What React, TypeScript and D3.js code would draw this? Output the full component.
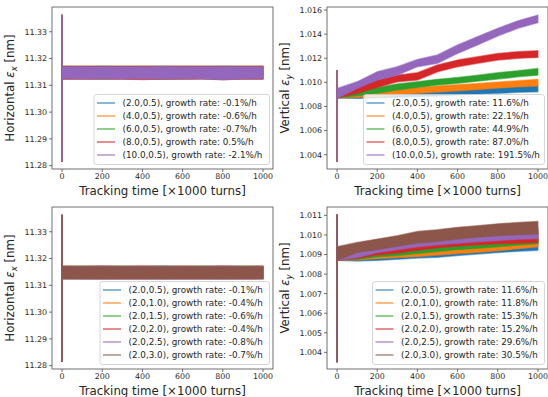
import React from "react";
import * as d3 from "d3";

// Tracking time samples [x1000 turns]
const TIME = [0, 100, 200, 300, 400, 500, 600, 700, 800, 900, 1000];

// Colour cycle
const C_BLUE = "#1f77b4";
const C_ORANGE = "#ff7f0e";
const C_GREEN = "#2ca02c";
const C_RED = "#d62728";
const C_PURPLE = "#9467bd";
const C_BROWN = "#8c564b";

// ---------- Horizontal emittance, scan of first parameter ----------
const H1_PARAMS = ["(2.0,0.5)", "(4.0,0.5)", "(6.0,0.5)", "(8.0,0.5)", "(10.0,0.5)"];
const H1_RATES = ["-0.1", "-0.6", "-0.7", "0.5", "-2.1"];
const H1_LO = [
  [11.3126, 11.3126, 11.3125, 11.3126, 11.3126, 11.3125, 11.3126, 11.3126, 11.3125, 11.3126, 11.3126],
  [11.3125, 11.3126, 11.3126, 11.3125, 11.3126, 11.3126, 11.3125, 11.3126, 11.3126, 11.3125, 11.3126],
  [11.3124, 11.3124, 11.3123, 11.3124, 11.3124, 11.3123, 11.3124, 11.3124, 11.3123, 11.3124, 11.3124],
  [11.3123, 11.3123, 11.3124, 11.3123, 11.3122, 11.3123, 11.3123, 11.3124, 11.3122, 11.3123, 11.3123],
  [11.3125, 11.3124, 11.3125, 11.3124, 11.3125, 11.3124, 11.3125, 11.3124, 11.3121, 11.3124, 11.3125],
];
const H1_HI = [
  [11.3171, 11.3171, 11.3172, 11.3171, 11.3171, 11.3172, 11.3171, 11.3171, 11.3172, 11.3171, 11.3171],
  [11.3172, 11.3172, 11.3171, 11.3172, 11.3172, 11.3171, 11.3172, 11.3172, 11.3171, 11.3172, 11.3172],
  [11.3170, 11.3170, 11.3170, 11.3170, 11.3170, 11.3170, 11.3170, 11.3170, 11.3170, 11.3170, 11.3170],
  [11.3170, 11.3170, 11.3170, 11.3170, 11.3170, 11.3170, 11.3170, 11.3170, 11.3170, 11.3170, 11.3170],
  [11.3169, 11.3170, 11.3169, 11.3170, 11.3169, 11.3170, 11.3169, 11.3170, 11.3169, 11.3170, 11.3169],
];
const H_SPIKE = [11.2815, 11.3364];

// ---------- Vertical emittance, scan of first parameter ----------
const V1_PARAMS = H1_PARAMS;
const V1_RATES = ["11.6", "22.1", "44.9", "87.0", "191.5"];
const V_BASE_LO = [1.0087, 1.00867, 1.0087, 1.00876, 1.00882, 1.00886, 1.00895, 1.00903, 1.0091, 1.00917, 1.00922];
const V_BASE_HI = [1.0091, 1.00895, 1.00903, 1.00914, 1.00925, 1.00936, 1.00945, 1.00953, 1.00962, 1.0097, 1.00978];
const V1_LO = [
  V_BASE_LO,
  [1.0087, 1.00876, 1.0088, 1.00895, 1.00909, 1.0092, 1.0093, 1.0094, 1.00953, 1.00963, 1.0097],
  [1.0087, 1.00889, 1.00909, 1.00936, 1.00958, 1.00978, 1.00992, 1.0101, 1.01027, 1.01046, 1.0106],
  [1.0087, 1.00909, 1.00958, 1.01005, 1.01019, 1.01088, 1.0113, 1.01158, 1.01185, 1.01199, 1.01207],
  [1.00867, 1.0095, 1.01019, 1.0106, 1.0113, 1.01158, 1.0124, 1.0131, 1.01384, 1.01448, 1.01495],
];
const V1_HI = [
  V_BASE_HI,
  [1.0092, 1.00909, 1.00922, 1.00942, 1.00958, 1.0097, 1.0098, 1.0099, 1.01002, 1.01013, 1.01025],
  [1.0092, 1.0093, 1.00958, 1.00986, 1.01005, 1.01025, 1.01041, 1.0106, 1.0108, 1.01096, 1.01116],
  [1.0093, 1.00958, 1.01019, 1.0106, 1.0108, 1.01144, 1.01185, 1.01213, 1.0124, 1.01254, 1.01262],
  [1.0095, 1.01005, 1.01088, 1.0113, 1.0119, 1.01227, 1.0131, 1.0138, 1.01448, 1.0151, 1.01558],
];
const V_SPIKE = [1.00341, 1.0110];

// ---------- Horizontal emittance, scan of second parameter ----------
const H2_PARAMS = ["(2.0,0.5)", "(2.0,1.0)", "(2.0,1.5)", "(2.0,2.0)", "(2.0,2.5)", "(2.0,3.0)"];
const H2_RATES = ["-0.1", "-0.4", "-0.6", "-0.4", "-0.8", "-0.7"];
const H2_LO = [
  H1_LO[0],
  [11.3125, 11.3125, 11.3126, 11.3125, 11.3125, 11.3126, 11.3125, 11.3125, 11.3126, 11.3125, 11.3125],
  [11.3124, 11.3125, 11.3124, 11.3125, 11.3124, 11.3125, 11.3124, 11.3125, 11.3124, 11.3125, 11.3124],
  [11.3125, 11.3124, 11.3125, 11.3124, 11.3125, 11.3124, 11.3125, 11.3124, 11.3125, 11.3124, 11.3125],
  [11.3124, 11.3124, 11.3124, 11.3124, 11.3124, 11.3124, 11.3124, 11.3124, 11.3124, 11.3124, 11.3124],
  [11.3125, 11.3125, 11.3125, 11.3125, 11.3125, 11.3125, 11.3125, 11.3125, 11.3125, 11.3125, 11.3125],
];
const H2_HI = [
  H1_HI[0],
  [11.3171, 11.3171, 11.3171, 11.3171, 11.3171, 11.3171, 11.3171, 11.3171, 11.3171, 11.3171, 11.3171],
  [11.3170, 11.3171, 11.3170, 11.3171, 11.3170, 11.3171, 11.3170, 11.3171, 11.3170, 11.3171, 11.3170],
  [11.3171, 11.3170, 11.3171, 11.3170, 11.3171, 11.3170, 11.3171, 11.3170, 11.3171, 11.3170, 11.3171],
  [11.3170, 11.3170, 11.3170, 11.3170, 11.3170, 11.3170, 11.3170, 11.3170, 11.3170, 11.3170, 11.3170],
  [11.3169, 11.3169, 11.3169, 11.3169, 11.3169, 11.3169, 11.3169, 11.3169, 11.3169, 11.3169, 11.3169],
];

// ---------- Vertical emittance, scan of second parameter ----------
const V2_PARAMS = H2_PARAMS;
const V2_RATES = ["11.6", "11.8", "15.3", "15.2", "29.6", "30.5"];
const V2_LO = [
  V_BASE_LO,
  [1.0087, 1.00872, 1.0088, 1.00885, 1.0089, 1.00898, 1.00905, 1.00912, 1.0092, 1.0093, 1.0094],
  [1.0087, 1.00875, 1.00888, 1.00895, 1.00905, 1.00915, 1.00925, 1.00932, 1.0094, 1.00948, 1.00955],
  [1.0087, 1.0088, 1.00898, 1.00908, 1.00922, 1.00935, 1.00943, 1.0095, 1.00955, 1.00958, 1.00962],
  [1.0087, 1.00885, 1.0091, 1.00925, 1.0094, 1.0095, 1.00958, 1.00965, 1.00972, 1.00978, 1.00982],
  [1.0087, 1.00911, 1.00925, 1.00942, 1.00959, 1.00967, 1.00979, 1.00989, 1.00996, 1.01001, 1.01005],
];
const V2_HI = [
  V_BASE_HI,
  [1.0091, 1.00905, 1.00915, 1.00925, 1.00935, 1.00945, 1.00953, 1.0096, 1.00968, 1.00978, 1.0099],
  [1.0092, 1.00912, 1.00925, 1.00935, 1.00948, 1.0096, 1.0097, 1.0098, 1.00988, 1.00996, 1.01005],
  [1.0092, 1.0092, 1.00935, 1.00948, 1.0096, 1.0097, 1.00983, 1.00995, 1.01005, 1.01012, 1.0102],
  [1.0093, 1.0093, 1.00955, 1.0097, 1.00985, 1.00998, 1.01008, 1.01018, 1.01028, 1.01035, 1.0104],
  [1.0094, 1.00962, 1.00979, 1.00996, 1.01018, 1.01027, 1.01039, 1.01047, 1.01057, 1.01064, 1.01069],
];
const V2_SPIKE = [1.0035, 1.01105];

const H_TICKS = [11.28, 11.29, 11.3, 11.31, 11.32, 11.33];
const V1_TICKS = [1.004, 1.006, 1.008, 1.01, 1.012, 1.014, 1.016];
const V2_TICKS = [1.004, 1.005, 1.006, 1.007, 1.008, 1.009, 1.01, 1.011];
const X_TICKS = [0, 200, 400, 600, 800, 1000];

const COLORS5 = [C_BLUE, C_ORANGE, C_GREEN, C_RED, C_PURPLE];
const COLORS6 = [C_BLUE, C_ORANGE, C_GREEN, C_RED, C_PURPLE, C_BROWN];

const FONT = "'DejaVu Sans', sans-serif";
const TEXT = "#262626";
const SPINE = "#4d4d4d";

type Series = { color: string; lo: number[]; hi: number[]; label: string };

function makeSeries(colors: string[], params: string[], rates: string[], lo: number[][], hi: number[][]): Series[] {
  return params.map((p, i) => ({
    color: colors[i],
    lo: lo[i],
    hi: hi[i],
    label: `${p}, growth rate: ${rates[i]}%/h`,
  }));
}

type PanelProps = {
  left: number;
  right: number;
  top: number;
  bottom: number;
  yDomain: [number, number];
  yTicks: number[];
  yFormat: string;
  yTitle: string;
  ySub: string;
  series: Series[];
  spike: number[];
  legendLeft: number;
};

function Panel(p: PanelProps) {
  const x = d3.scaleLinear().domain([-50, 1050]).range([p.left, p.right]);
  const y = d3.scaleLinear().domain(p.yDomain).range([p.bottom, p.top]);
  const fmt = d3.format(p.yFormat);

  const rowH = 13;
  const n = p.series.length;
  const legBottom = p.bottom - 4.5;
  const legTop = legBottom - (n * rowH + 5);
  const legRight = p.right - 3.5;
  const clipId = `clip-${p.left}-${p.top}`;

  return (
    <g>
      <defs>
        <clipPath id={clipId}>
          <rect x={p.left} y={p.top} width={p.right - p.left} height={p.bottom - p.top} />
        </clipPath>
      </defs>
      <g clipPath={`url(#${clipId})`}>
        {p.series.map((s, k) => {
          const band = d3
            .area<number>()
            .x((_, i) => x(TIME[i]))
            .y0((d) => y(d))
            .y1((_, i) => y(s.hi[i]));
          return (
            <g key={k}>
              <path
                d={band(s.lo) || ""}
                fill={s.color}
                stroke={s.color}
                strokeOpacity={0.55}
                strokeWidth={1.4}
                strokeLinejoin="round"
              />
              <line
                x1={x(0)}
                x2={x(0)}
                y1={y(p.spike[0])}
                y2={y(p.spike[1])}
                stroke={s.color}
                strokeWidth={1.3}
              />
            </g>
          );
        })}
      </g>
      {/* legend */}
      <rect
        x={p.legendLeft}
        y={legTop}
        width={legRight - p.legendLeft}
        height={legBottom - legTop}
        rx={2.5}
        fill="white"
        fillOpacity={0.8}
        stroke="#cccccc"
        strokeWidth={0.8}
      />
      {p.series.map((s, k) => {
        const cy = legTop + 8.5 + k * rowH;
        return (
          <g key={k}>
            <line
              x1={p.legendLeft + 3}
              x2={p.legendLeft + 21}
              y1={cy}
              y2={cy}
              stroke={s.color}
              strokeOpacity={0.7}
              strokeWidth={1.5}
            />
            <text
              x={p.legendLeft + 28.5}
              y={cy}
              dy="0.33em"
              fontSize={8.8}
              fontFamily={FONT}
              fill={TEXT}
            >
              {s.label}
            </text>
          </g>
        );
      })}
      {/* frame */}
      <rect
        x={p.left}
        y={p.top}
        width={p.right - p.left}
        height={p.bottom - p.top}
        fill="none"
        stroke={SPINE}
        strokeWidth={0.8}
      />
      {/* y ticks */}
      {p.yTicks.map((t) => (
        <g key={t}>
          <line x1={p.left - 3} x2={p.left} y1={y(t)} y2={y(t)} stroke={SPINE} strokeWidth={0.8} />
          <text
            x={p.left - 5}
            y={y(t)}
            dy="0.36em"
            textAnchor="end"
            fontSize={7.9}
            fontFamily={FONT}
            fill={TEXT}
          >
            {fmt(t)}
          </text>
        </g>
      ))}
      {/* x ticks */}
      {X_TICKS.map((t) => (
        <g key={t}>
          <line x1={x(t)} x2={x(t)} y1={p.bottom} y2={p.bottom + 3} stroke={SPINE} strokeWidth={0.8} />
          <text
            x={x(t)}
            y={p.bottom + 9.6}
            textAnchor="middle"
            fontSize={7.9}
            fontFamily={FONT}
            fill={TEXT}
          >
            {t}
          </text>
        </g>
      ))}
      <text
        x={(p.left + p.right) / 2}
        y={p.bottom + 26}
        textAnchor="middle"
        fontSize={11.8}
        fontFamily={FONT}
        fill={TEXT}
      >
        Tracking time [×1000 turns]
      </text>
      <text
        transform={`translate(${p.left - 38},${(p.top + p.bottom) / 2}) rotate(-90)`}
        textAnchor="middle"
        fontSize={11.8}
        fontFamily={FONT}
        fill={TEXT}
      >
        {p.yTitle} <tspan fontStyle="italic">ε</tspan>
        <tspan fontStyle="italic" fontSize={8.3} dy={2.5}>
          {p.ySub}
        </tspan>
        <tspan dy={-2.5}> [nm]</tspan>
      </text>
    </g>
  );
}

export default function App() {
  const s1 = makeSeries(COLORS5, H1_PARAMS, H1_RATES, H1_LO, H1_HI);
  const s2 = makeSeries(COLORS5, V1_PARAMS, V1_RATES, V1_LO, V1_HI);
  const s3 = makeSeries(COLORS6, H2_PARAMS, H2_RATES, H2_LO, H2_HI);
  const s4 = makeSeries(COLORS6, V2_PARAMS, V2_RATES, V2_LO, V2_HI);
  return (
    <svg
      width={548}
      height={397}
      style={{ position: "fixed", left: 0, top: 0, background: "white" }}
    >
      <rect width={548} height={397} fill="white" />
      <Panel
        left={52}
        right={273}
        top={7}
        bottom={169}
        yDomain={[11.27875, 11.33925]}
        yTicks={H_TICKS}
        yFormat=".2f"
        yTitle="Horizontal"
        ySub="x"
        series={s1}
        spike={H_SPIKE}
        legendLeft={94}
      />
      <Panel
        left={327}
        right={548}
        top={7}
        bottom={169}
        yDomain={[1.002815, 1.01625]}
        yTicks={V1_TICKS}
        yFormat=".3f"
        yTitle="Vertical"
        ySub="y"
        series={s2}
        spike={V_SPIKE}
        legendLeft={363.5}
      />
      <Panel
        left={52}
        right={273}
        top={207}
        bottom={369}
        yDomain={[11.27875, 11.33925]}
        yTicks={H_TICKS}
        yFormat=".2f"
        yTitle="Horizontal"
        ySub="x"
        series={s3}
        spike={H_SPIKE}
        legendLeft={100}
      />
      <Panel
        left={327}
        right={548}
        top={207}
        bottom={369}
        yDomain={[1.00315, 1.01143]}
        yTicks={V2_TICKS}
        yFormat=".3f"
        yTitle="Vertical"
        ySub="y"
        series={s4}
        spike={V2_SPIKE}
        legendLeft={372.5}
      />
    </svg>
  );
}
